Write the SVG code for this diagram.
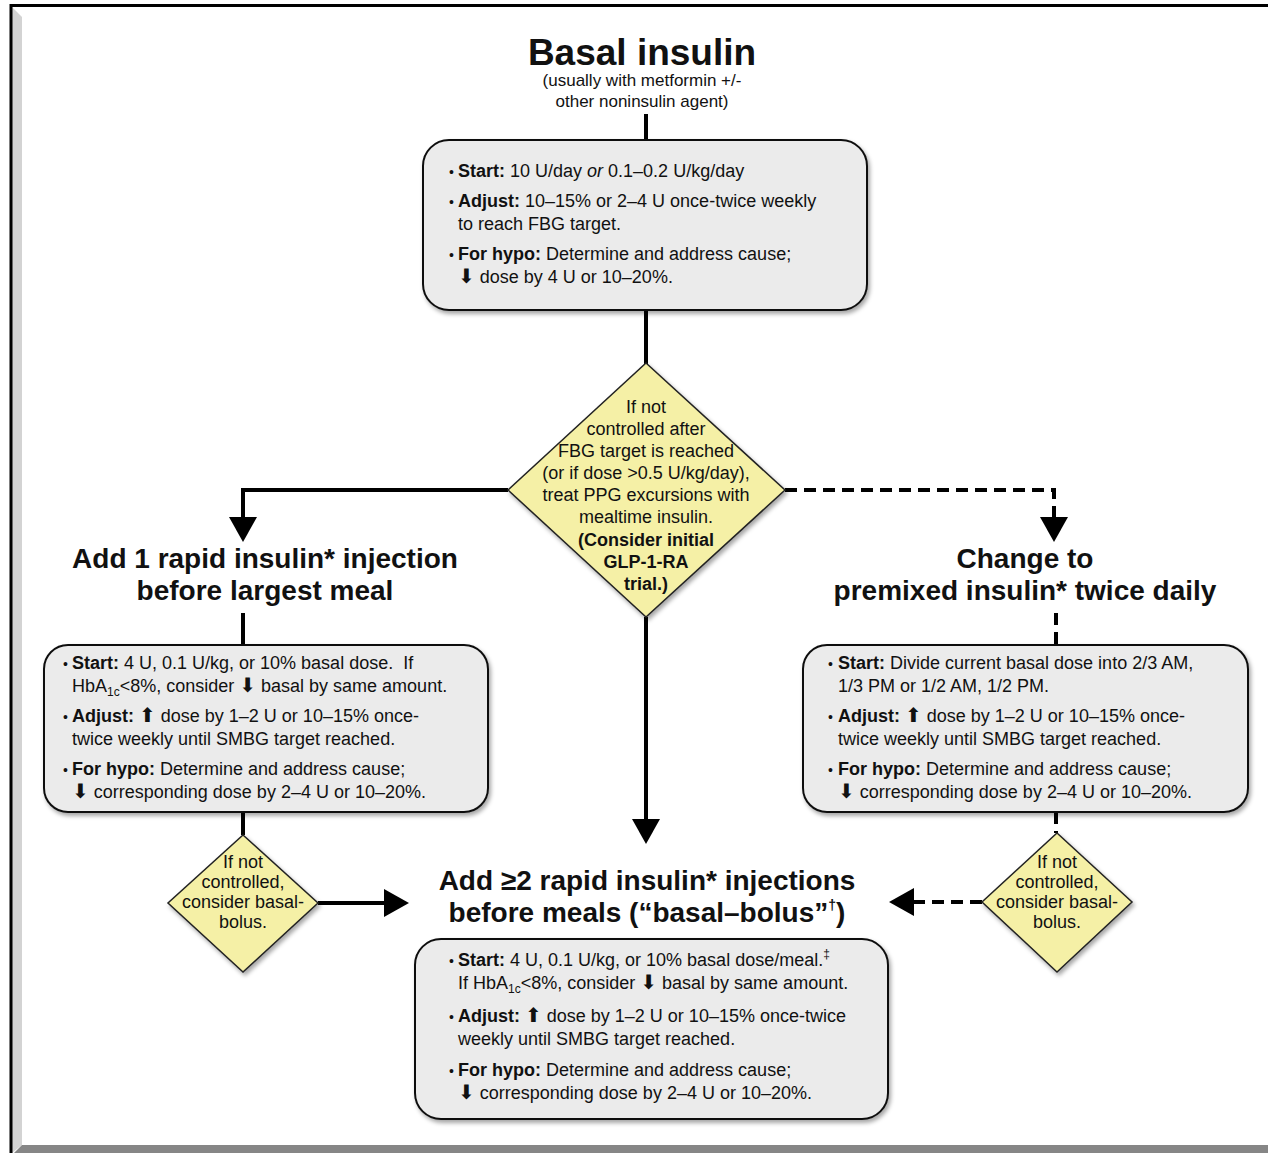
<svg xmlns="http://www.w3.org/2000/svg" width="1268" height="1153" viewBox="0 0 1268 1153">
<defs>
<style>
text{font-family:"Liberation Sans",Arial,Helvetica,sans-serif;fill:#111}
.ttl{font-size:37px;font-weight:bold;text-anchor:middle}
.sub{font-size:17px;text-anchor:middle}
.h{font-size:28px;font-weight:bold;text-anchor:middle}
.t{font-size:18px}
.c{font-size:18px;text-anchor:middle}
.b{font-weight:bold}
.bul{font-size:14px}
.ar{font-family:"DejaVu Sans",sans-serif;font-size:20px}
.sb{font-size:12px}
.box{fill:#ebebeb;stroke:#111;stroke-width:2;filter:url(#sh)}
.dia{fill:#f5f0a6;stroke:#222;stroke-width:1.5;filter:url(#sh)}
.conn{stroke:#000;stroke-width:4;fill:none}
.dash{stroke-dasharray:12 7}
</style>
<filter id="sh" x="-10%" y="-10%" width="125%" height="130%">
<feDropShadow dx="2" dy="3" stdDeviation="2" flood-color="#000" flood-opacity="0.35"/>
</filter>
<marker id="ah" viewBox="0 0 25 28" refX="1" refY="14" markerWidth="25" markerHeight="28" markerUnits="userSpaceOnUse" orient="auto">
<path d="M0,0 L25,14 L0,28 Z" fill="#000"/>
</marker>
</defs>
<rect x="0" y="0" width="1268" height="1153" fill="#fff"/>
<g id="frame">
<polygon points="12,7 22,17 22,1145 12,1153" fill="#d3d3d3"/>
<polygon points="14,1153 22,1145 1268,1145 1268,1153" fill="#868686"/>
<line x1="10" y1="5.5" x2="1268" y2="5.5" stroke="#000" stroke-width="3"/>
<line x1="11" y1="4" x2="11" y2="1153" stroke="#000" stroke-width="3"/>
</g>
<g id="connectors">
<line class="conn" x1="646" y1="114" x2="646" y2="140"/>
<line class="conn" x1="646" y1="310" x2="646" y2="364"/>
<path class="conn" d="M508,490 H243 V518" marker-end="url(#ah)"/>
<path class="conn dash" d="M785,490 H1054 V518" marker-end="url(#ah)"/>
<path class="conn" d="M646,617 V820" marker-end="url(#ah)"/>
<line class="conn" x1="243" y1="613" x2="243" y2="645"/>
<line class="conn dash" x1="1056" y1="613" x2="1056" y2="645"/>
<line class="conn" x1="243" y1="812" x2="243" y2="835"/>
<line class="conn dash" x1="1056" y1="812" x2="1056" y2="833"/>
<path class="conn" d="M318,903 H385" marker-end="url(#ah)"/>
<path class="conn dash" d="M982,902 H913" marker-end="url(#ah)"/>
</g>
<g id="basal-title">
<text class="ttl" x="642" y="65">Basal insulin</text>
<text class="sub" x="642" y="86">(usually with metformin +/-</text>
<text class="sub" x="642" y="107">other noninsulin agent)</text>
</g>
<g id="basal-box">
<rect class="box" x="423" y="140" width="444" height="170" rx="26"/>
<text class="t" x="449" y="177"><tspan class="bul">•</tspan><tspan x="458" class="b">Start:</tspan> 10 U/day <tspan font-style="italic">or</tspan> 0.1–0.2 U/kg/day</text>
<text class="t" x="449" y="207"><tspan class="bul">•</tspan><tspan x="458" class="b">Adjust:</tspan> 10–15% or 2–4 U once-twice weekly</text>
<text class="t" x="458" y="230">to reach FBG target.</text>
<text class="t" x="449" y="260"><tspan class="bul">•</tspan><tspan x="458" class="b">For hypo:</tspan> Determine and address cause;</text>
<text class="t" x="458" y="283"><tspan class="ar">⬇</tspan> dose by 4 U or 10–20%.</text>
</g>
<g id="decision-main">
<polygon class="dia" points="646,363 785,490 646,617 508,490"/>
<text class="c" x="646" y="413">If not</text>
<text class="c" x="646" y="435">controlled after</text>
<text class="c" x="646" y="457">FBG target is reached</text>
<text class="c" x="646" y="479">(or if dose &gt;0.5 U/kg/day),</text>
<text class="c" x="646" y="501">treat PPG excursions with</text>
<text class="c" x="646" y="523">mealtime insulin.</text>
<text class="c b" x="646" y="546">(Consider initial</text>
<text class="c b" x="646" y="568">GLP-1-RA</text>
<text class="c b" x="646" y="590">trial.)</text>
</g>
<g id="add-one-title">
<text class="h" x="265" y="568">Add 1 rapid insulin* injection</text>
<text class="h" x="265" y="600">before largest meal</text>
</g>
<g id="add-one-box">
<rect class="box" x="44" y="645" width="444" height="167" rx="24"/>
<text class="t" x="63" y="669"><tspan class="bul">•</tspan><tspan x="72" class="b">Start:</tspan> 4 U, 0.1 U/kg, or 10% basal dose.&#160; If</text>
<text class="t" x="72" y="692">HbA<tspan class="sb" dy="4">1c</tspan><tspan dy="-4">&lt;8%, consider </tspan><tspan class="ar">⬇</tspan> basal by same amount.</text>
<text class="t" x="63" y="722"><tspan class="bul">•</tspan><tspan x="72" class="b">Adjust:</tspan> <tspan class="ar">⬆</tspan> dose by 1–2 U or 10–15% once-</text>
<text class="t" x="72" y="745">twice weekly until SMBG target reached.</text>
<text class="t" x="63" y="775"><tspan class="bul">•</tspan><tspan x="72" class="b">For hypo:</tspan> Determine and address cause;</text>
<text class="t" x="72" y="798"><tspan class="ar">⬇</tspan> corresponding dose by 2–4 U or 10–20%.</text>
</g>
<g id="premixed-title">
<text class="h" x="1025" y="568">Change to</text>
<text class="h" x="1025" y="600">premixed insulin* twice daily</text>
</g>
<g id="premixed-box">
<rect class="box" x="803" y="645" width="445" height="167" rx="24"/>
<text class="t" x="828" y="669"><tspan class="bul">•</tspan><tspan x="838" class="b">Start:</tspan> Divide current basal dose into 2/3 AM,</text>
<text class="t" x="838" y="692">1/3 PM or 1/2 AM, 1/2 PM.</text>
<text class="t" x="828" y="722"><tspan class="bul">•</tspan><tspan x="838" class="b">Adjust:</tspan> <tspan class="ar">⬆</tspan> dose by 1–2 U or 10–15% once-</text>
<text class="t" x="838" y="745">twice weekly until SMBG target reached.</text>
<text class="t" x="828" y="775"><tspan class="bul">•</tspan><tspan x="838" class="b">For hypo:</tspan> Determine and address cause;</text>
<text class="t" x="838" y="798"><tspan class="ar">⬇</tspan> corresponding dose by 2–4 U or 10–20%.</text>
</g>
<g id="decision-left">
<polygon class="dia" points="243,835 318,903 243,972 168,903"/>
<text class="c" x="243" y="868">If not</text>
<text class="c" x="243" y="888">controlled,</text>
<text class="c" x="243" y="908">consider basal-</text>
<text class="c" x="243" y="928">bolus.</text>
</g>
<g id="decision-right">
<polygon class="dia" points="1057,833 1132,902 1057,972 982,902"/>
<text class="c" x="1057" y="868">If not</text>
<text class="c" x="1057" y="888">controlled,</text>
<text class="c" x="1057" y="908">consider basal-</text>
<text class="c" x="1057" y="928">bolus.</text>
</g>
<g id="basal-bolus-title">
<text class="h" x="647" y="890">Add ≥2 rapid insulin* injections</text>
<text class="h" x="647" y="922">before meals (“basal–bolus”<tspan font-size="14px" dy="-12">†</tspan><tspan dy="12">)</tspan></text>
</g>
<g id="basal-bolus-box">
<rect class="box" x="415" y="939" width="473" height="180" rx="26"/>
<text class="t" x="449" y="966"><tspan class="bul">•</tspan><tspan x="458" class="b">Start:</tspan> 4 U, 0.1 U/kg, or 10% basal dose/meal.<tspan font-size="12px" dy="-8">‡</tspan></text>
<text class="t" x="458" y="989">If HbA<tspan class="sb" dy="4">1c</tspan><tspan dy="-4">&lt;8%, consider </tspan><tspan class="ar">⬇</tspan> basal by same amount.</text>
<text class="t" x="449" y="1022"><tspan class="bul">•</tspan><tspan x="458" class="b">Adjust:</tspan> <tspan class="ar">⬆</tspan> dose by 1–2 U or 10–15% once-twice</text>
<text class="t" x="458" y="1045">weekly until SMBG target reached.</text>
<text class="t" x="449" y="1076"><tspan class="bul">•</tspan><tspan x="458" class="b">For hypo:</tspan> Determine and address cause;</text>
<text class="t" x="458" y="1099"><tspan class="ar">⬇</tspan> corresponding dose by 2–4 U or 10–20%.</text>
</g>
</svg>
